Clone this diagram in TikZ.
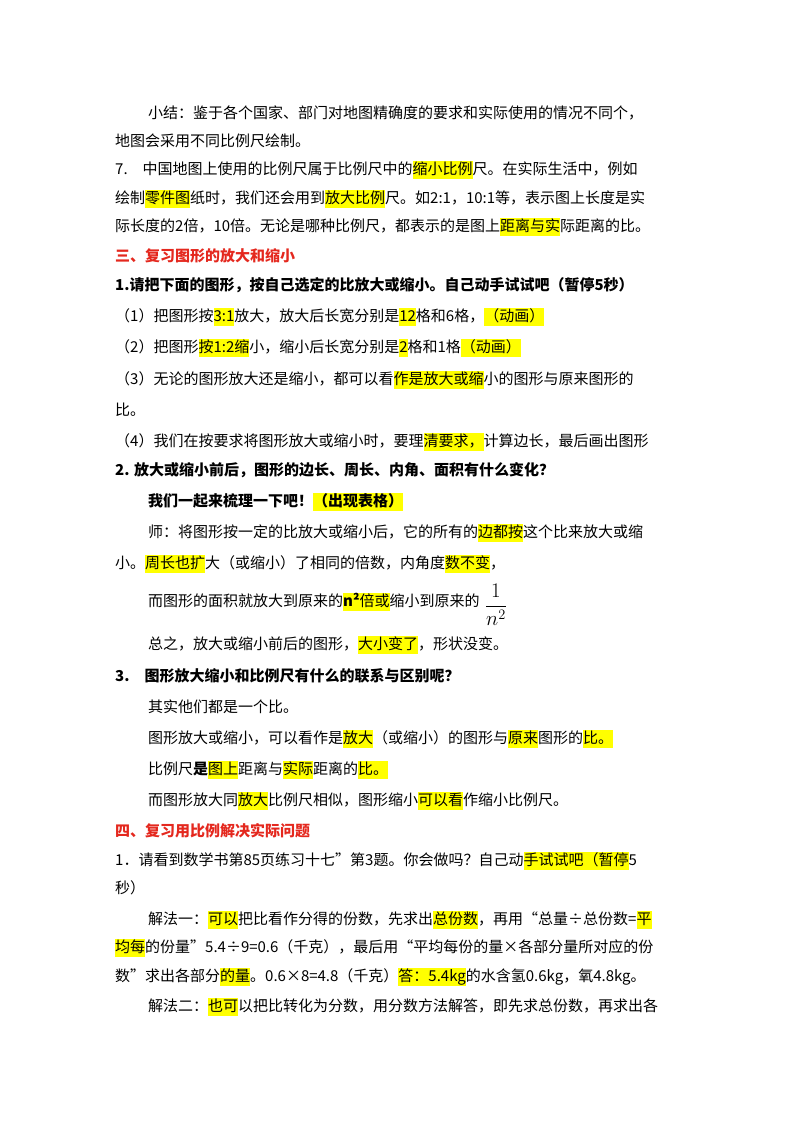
\documentclass[tikz,border=0pt]{standalone}
\usepackage{fontspec}
\setmainfont{Noto Sans CJK SC}
\usepackage{xcolor}
\definecolor{hlyellow}{RGB}{255,255,0}
\definecolor{titlered}{RGB}{228,40,30}
\newcommand{\hl}[1]{{\setlength{\fboxsep}{0pt}\colorbox{hlyellow}{\strut #1}}}
\tikzset{
  ln/.style={anchor=base west, inner sep=0pt, font=\fontsize{15}{18}\selectfont},
  bl/.style={ln, font=\fontsize{15}{18}\selectfont\bfseries},
  hd/.style={bl, text=titlered}
}
\begin{document}
\begin{tikzpicture}[x=1pt,y=-1pt]
	\useasboundingbox (0,0) rectangle (800,1132);
	% section seven
	\node[ln] (l1) at (148,118) {小结：鉴于各个国家、部门对地图精确度的要求和实际使用的情况不同个，};
	\node[ln] (l2) at (115,146) {地图会采用不同比例尺绘制。};
	\node[ln] (l3) at (115,174) {7.\quad 中国地图上使用的比例尺属于比例尺中的\hl{缩小比例}尺。在实际生活中，例如};
	\node[ln] (l4) at (115,203) {绘制\hl{零件图}纸时，我们还会用到\hl{放大比例}尺。如2:1，10:1等，表示图上长度是实};
	\node[ln] (l5) at (115,231) {际长度的2倍，10倍。无论是哪种比例尺，都表示的是图上\hl{距离与实}际距离的比。};
	% part three
	\node[hd] (h3) at (115,261) {三、复习图形的放大和缩小};
	\node[bl] (l7) at (115,290) {1.请把下面的图形，按自己选定的比放大或缩小。自己动手试试吧（暂停5秒）};
	\node[ln] (l8) at (115,321) {（1）把图形按\hl{3:1}放大，放大后长宽分别是\hl{12}格和6格，\hl{（动画）}};
	\node[ln] (l9) at (115,352) {（2）把图形\hl{按1:2缩}小，缩小后长宽分别是\hl{2}格和1格\hl{（动画）}};
	\node[ln] (l10) at (115,384) {（3）无论的图形放大还是缩小，都可以看\hl{作是放大或缩}小的图形与原来图形的};
	\node[ln] (l11) at (115,415) {比。};
	\node[ln] (l12) at (115,446) {（4）我们在按要求将图形放大或缩小时，要理\hl{清要求，}计算边长，最后画出图形};
	\node[bl] (l13) at (115,475) {2. 放大或缩小前后，图形的边长、周长、内角、面积有什么变化？};
	\node[bl] (l14) at (148,506) {我们一起来梳理一下吧！\hl{（出现表格）}};
	\node[ln] (l15) at (148,537) {师：将图形按一定的比放大或缩小后，它的所有的\hl{边都按}这个比来放大或缩};
	\node[ln] (l16) at (115,568) {小。\hl{周长也扩}大（或缩小）了相同的倍数，内角度\hl{数不变}，};
	\node[ln] (l17) at (148,606) {而图形的面积就放大到原来的\hl{\textbf{n²}倍或}缩小到原来的};
	\node[anchor=west, inner sep=0pt, font=\fontsize{20}{24}\selectfont] (f17) at ([xshift=5pt,yshift=-3pt]l17.east) {$\displaystyle\frac{1}{n^2}$};
	\node[ln] (l18) at (148,649) {总之，放大或缩小前后的图形，\hl{大小变了}，形状没变。};
	\node[bl] (l19) at (115,681) {3.\quad 图形放大缩小和比例尺有什么的联系与区别呢？};
	\node[ln] (l20) at (148,712) {其实他们都是一个比。};
	\node[ln] (l21) at (148,743) {图形放大或缩小，可以看作是\hl{放大}（或缩小）的图形与\hl{原来}图形的\hl{比。}};
	\node[ln] (l22) at (148,774) {比例尺\textbf{是}\hl{图上}距离与\hl{实际}距离的\hl{比。}};
	\node[ln] (l23) at (148,805) {而图形放大同\hl{放大}比例尺相似，图形缩小\hl{可以看}作缩小比例尺。};
	% part four
	\node[hd] (h4) at (115,836) {四、复习用比例解决实际问题};
	\node[ln] (l25) at (115,865) {1．请看到数学书第85页练习十七”第3题。你会做吗？自己动\hl{手试试吧（暂停}5};
	\node[ln] (l26) at (115,893) {秒）};
	\node[ln] (l27) at (148,924) {解法一：\hl{可以}把比看作分得的份数，先求出\hl{总份数}，再用“总量÷总份数=\hl{平}};
	\node[ln] (l28) at (115,952) {\hl{均每}的份量”5.4÷9=0.6（千克），最后用“平均每份的量×各部分量所对应的份};
	\node[ln] (l29) at (115,981) {数”求出各部分\hl{的量}。0.6×8=4.8（千克）\hl{答：5.4kg}的水含氢0.6kg，氧4.8kg。};
	\node[ln] (l30) at (148,1011) {解法二：\hl{也可}以把比转化为分数，用分数方法解答，即先求总份数，再求出各};
\end{tikzpicture}
\end{document}
